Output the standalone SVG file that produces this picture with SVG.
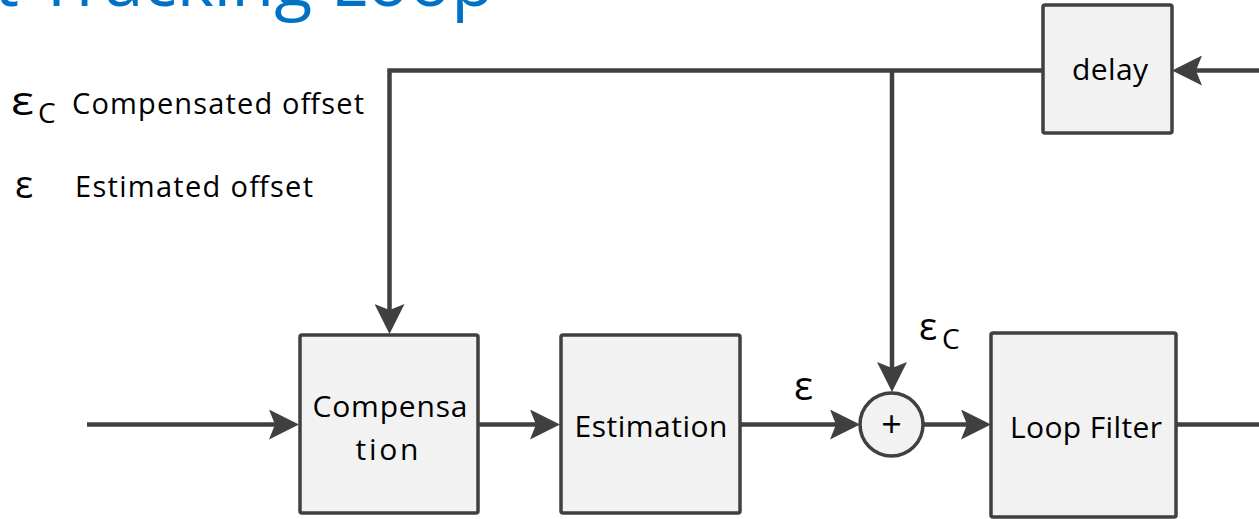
<svg xmlns="http://www.w3.org/2000/svg" width="1259" height="519" viewBox="0 0 1259 519">
<style>
.box{fill:#f2f2f2;stroke:#404040;stroke-width:3.5}
.ln{fill:none;stroke:#404040;stroke-width:4.5}
.t{font-family:"Open Sans","Noto Sans","Liberation Sans",sans-serif;fill:#000}
.lbl{font-size:30px;text-anchor:middle}
.title{font-family:"Open Sans","Noto Sans","Liberation Sans",sans-serif;fill:#0071c5;font-size:70px}
</style>
<defs>
<marker id="arr" viewBox="0 0 30 30" refX="20" refY="15" markerWidth="30" markerHeight="30" markerUnits="userSpaceOnUse" orient="auto">
<path d="M0,0 L30,15 L0,30 L6,15 Z" fill="#404040"/>
</marker>
</defs>
<rect width="1259" height="519" fill="#fff"/>
<text class="title" x="494" y="6" text-anchor="end">t Tracking Loop</text>
<g id="legend">
<text class="t" x="11" y="115" font-size="40" transform="translate(11 0) scale(1.2 1) translate(-11 0)">ε</text>
<text class="t" x="38" y="123" font-size="28">C</text>
<text class="t" x="72" y="114" font-size="29" textLength="292" lengthAdjust="spacing">Compensated offset</text>
<text class="t" x="15" y="198" font-size="38">ε</text>
<text class="t" x="75" y="197" font-size="29" textLength="238" lengthAdjust="spacing">Estimated offset</text>
</g>
<g id="connectors">
<line class="ln" x1="87" y1="424.5" x2="289" y2="424.5" marker-end="url(#arr)"/>
<line class="ln" x1="479" y1="424.5" x2="550" y2="424.5" marker-end="url(#arr)"/>
<line class="ln" x1="740" y1="424.5" x2="850" y2="424.5" marker-end="url(#arr)"/>
<line class="ln" x1="924" y1="424.5" x2="981" y2="424.5" marker-end="url(#arr)"/>
<line class="ln" x1="1176" y1="424.5" x2="1259" y2="424.5"/>
<line class="ln" x1="1259" y1="70.5" x2="1182" y2="70.5" marker-end="url(#arr)"/>
<polyline class="ln" points="1043,70.5 389.5,70.5 389.5,324" marker-end="url(#arr)"/>
<line class="ln" x1="892" y1="70.5" x2="892" y2="382" marker-end="url(#arr)"/>
</g>
<g id="delay">
<rect class="box" x="1043" y="5" width="129" height="128" rx="2"/>
<text class="t lbl" x="1110" y="80" font-size="28" textLength="76" lengthAdjust="spacing">delay</text>
</g>
<g id="compensation">
<rect class="box" x="300" y="335" width="178" height="178" rx="2"/>
<text class="t lbl" x="390" y="417" textLength="155" lengthAdjust="spacing">Compensa</text>
<text class="t lbl" x="387" y="460" textLength="63" lengthAdjust="spacing">tion</text>
</g>
<g id="estimation">
<rect class="box" x="561" y="335" width="179" height="178" rx="2"/>
<text class="t lbl" x="651" y="437" textLength="153" lengthAdjust="spacing">Estimation</text>
</g>
<g id="sum">
<circle cx="891.5" cy="424.5" r="31.5" fill="#f2f2f2" stroke="#404040" stroke-width="3.5"/>
<text class="t" x="891.5" y="437" font-size="36" text-anchor="middle">+</text>
</g>
<g id="loopfilter">
<rect class="box" x="991" y="333" width="185" height="184" rx="2"/>
<text class="t lbl" x="1086" y="438" textLength="152" lengthAdjust="spacing">Loop Filter</text>
</g>
<g id="signal-labels">
<text class="t" x="794" y="400" font-size="40">ε</text>
<text class="t" x="919" y="340" font-size="38">ε</text>
<text class="t" x="942" y="349" font-size="28">C</text>
</g>
</svg>
